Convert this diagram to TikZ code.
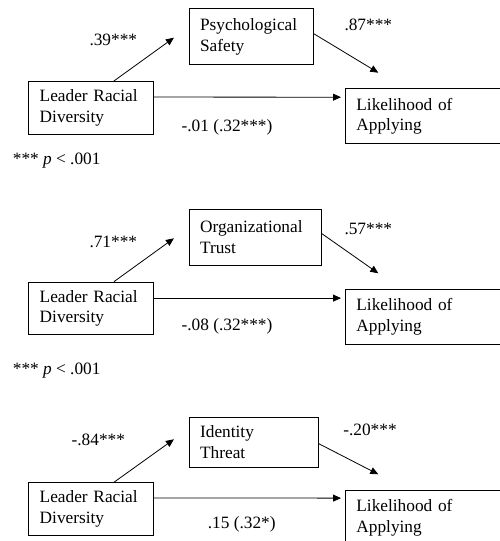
\documentclass[tikz,border=0pt]{standalone}
\usepackage{fontspec}
\setmainfont{Liberation Serif}
\usetikzlibrary{arrows.meta}
\tikzset{var/.style={draw,line width=0.8pt,align=left,anchor=north west,inner xsep=11pt,inner ysep=0pt},
  coef/.style={anchor=base,inner sep=0pt},
  link/.style={draw,line width=0.8pt,-{Triangle[length=8pt,width=7pt]}}}

\begin{document}
\begin{tikzpicture}[x=1pt,y=-1pt,font=\fontsize{17.3}{20.7}\selectfont]
\useasboundingbox (0,0) rectangle (499,541);
% psychological safety
\node[var,text width=102.4pt,minimum height=53.3pt] (lrd1) at (28.3,81) {Leader Racial\\Diversity};
\node[var,text width=102pt,minimum height=55.7pt] (ps) at (188.7,8.3) {Psychological\\Safety};
\node[var,text width=158pt,minimum height=55pt] (lik1) at (345,88.3) {Likelihood of\\Applying};
\coordinate (tip1) at (378.3,72.7);
\draw[link] ([xshift=23pt]lrd1.north) -- ++(60,-43.3);
\draw[link] ([yshift=3pt]ps.east) -- (tip1);
\draw[link] ([yshift=11pt]lrd1.east) -- ([xshift=-4pt,yshift=19pt]lik1.west);
\node[coef] (a1) at (113.3,45) {.39***};
\node[coef] (b1) at (368.3,30.7) {.87***};
\node[coef] (c1) at (227,131) {-.01 (.32***)};
\node[coef,anchor=base west] (p1) at (12.7,164.3) {*** \textit{p} < .001};
% organizational trust
\node[var,text width=102.4pt,minimum height=52.6pt] (lrd2) at (28.3,281.7) {Leader Racial\\Diversity};
\node[var,text width=110pt,minimum height=56pt] (ot) at (188.7,209) {Organizational\\Trust};
\node[var,text width=158pt,minimum height=55pt] (lik2) at (345,289) {Likelihood of\\Applying};
\coordinate (tip2) at (378.3,273.3);
\draw[link] ([xshift=23pt]lrd2.north) -- ++(60,-43.4);
\draw[link] ([yshift=4pt]ot.east) -- (tip2);
\draw[link] ([yshift=10.3pt]lrd2.east) -- ([xshift=-4pt,yshift=18.8pt]lik2.west);
\node[coef] (a2) at (113.3,247.7) {.71***};
\node[coef] (b2) at (368.3,234) {.57***};
\node[coef] (c2) at (227,330) {-.08 (.32***)};
\node[coef,anchor=base west] (p2) at (12.7,374) {*** \textit{p} < .001};
% identity threat
\node[var,text width=102.4pt,minimum height=52.7pt] (lrd3) at (28.3,482.3) {Leader Racial\\Diversity};
\node[var,text width=107.3pt,minimum height=50pt] (it) at (188.7,416.7) {Identity\\Threat};
\node[var,text width=158pt,minimum height=55pt] (lik3) at (345,490) {Likelihood of\\Applying};
\coordinate (tip3) at (378.3,474.3);
\draw[link] ([xshift=23pt]lrd3.north) -- ++(60,-43);
\draw[link] ([yshift=-1.6pt]it.east) -- (tip3);
\draw[link] ([yshift=11pt]lrd3.east) -- ([xshift=-4pt,yshift=19.8pt]lik3.west);
\node[coef] (a3) at (98.3,445) {-.84***};
\node[coef] (b3) at (370,435) {-.20***};
\node[coef] (c3) at (241.7,528.3) {.15 (.32*)};
\end{tikzpicture}
\end{document}
